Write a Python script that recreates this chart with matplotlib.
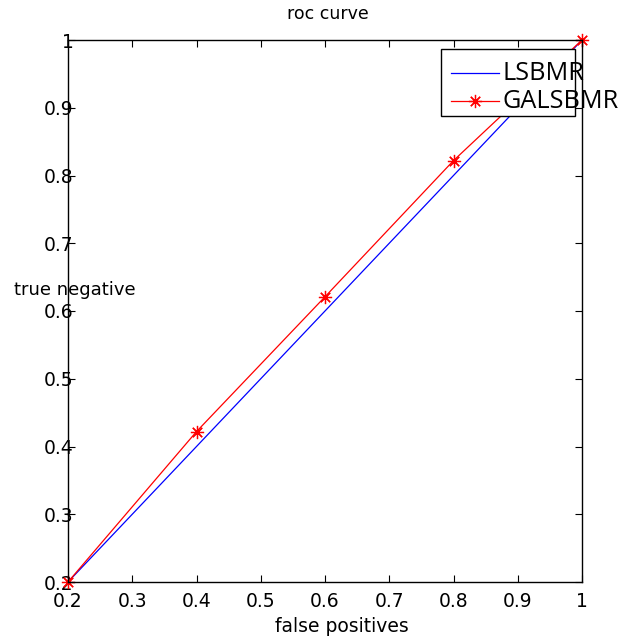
import numpy as np
import matplotlib
matplotlib.use('Agg')
import matplotlib.pyplot as plt
from matplotlib.patches import Rectangle
from matplotlib.lines import Line2D

# data
fp = [0.2, 0.4, 0.6, 0.8, 1.0]
lsbmr = [0.2, 0.4, 0.6, 0.8, 1.0]
galsbmr = [0.2, 0.422, 0.621, 0.822, 1.0]
ticks = [0.2, 0.3, 0.4, 0.5, 0.6, 0.7, 0.8, 0.9, 1.0]
tick_labels = ['0.2', '0.3', '0.4', '0.5', '0.6', '0.7', '0.8', '0.9', '1']
series_names = ['LSBMR', 'GALSBMR']

plt.rcParams['font.family'] = ['DejaVu Sans']

# matlab style asterisk
star = (8, 2, 0)

fig = plt.figure(figsize=(6.38, 6.42), dpi=100)
ax = fig.add_axes([68/638, 60/642, (582-68)/638, (582-40)/642])

ax.plot(fp, lsbmr, '-', color='blue', lw=0.9)
ax.plot(fp, galsbmr, '-', color='red', lw=0.9, marker=star, ms=9.5,
        markeredgewidth=0.9, clip_on=False)

ax.set_xlim(0.2, 1)
ax.set_ylim(0.2, 1)
ax.set_xticks(ticks)
ax.set_xticklabels(tick_labels)
ax.set_yticks(ticks)
ax.set_yticklabels(tick_labels)
ax.tick_params(direction='in', length=5, width=0.8, top=True, right=True,
               labelsize=13.5, colors='black')
ax.tick_params(axis='y', pad=-4)
ax.tick_params(axis='x', pad=7)
for s in ax.spines.values():
    s.set_linewidth(1.0)

fig.text(328/638, 1 - 14/642, 'roc curve', ha='center', va='center', fontsize=12.5)
fig.text(342/638, 1 - 627/642, 'false positives', ha='center', va='center', fontsize=13.5)
fig.text(75/638, 1 - 290/642, 'true negative', ha='center', va='center', fontsize=13)

# legend box, drawn by hand so the big text spills over the frame like the original
leg_x0, leg_y0 = 441/638, 1 - 116/642
fig.patches.append(Rectangle((leg_x0, leg_y0), (575-441)/638, (116-49)/642,
                             transform=fig.transFigure, fill=True,
                             facecolor='white', edgecolor='black', lw=1.0,
                             zorder=5))
colors = ['blue', 'red']
markers = [None, star]
rows = [73, 101]
for name, c, m, r in zip(series_names, colors, markers, rows):
    yy = 1 - r/642
    fig.lines.append(Line2D([451/638, 499/638], [yy, yy], transform=fig.transFigure,
                            color=c, lw=0.9, zorder=6))
    if m:
        fig.lines.append(Line2D([475/638], [yy], transform=fig.transFigure,
                                color=c, marker=m, ms=9.5, markeredgewidth=0.9,
                                zorder=6))
    fig.text(503/638, yy, name, ha='left', va='center', fontsize=18.2,
             family=['Open Sans', 'DejaVu Sans'], zorder=7)

fig.savefig('out.png', dpi=100, facecolor='white')
